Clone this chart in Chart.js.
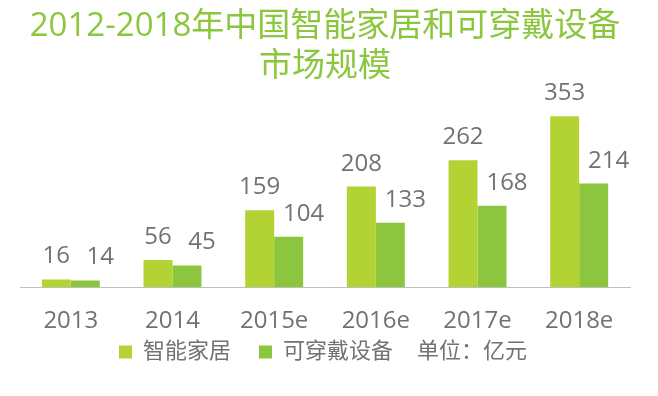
<!DOCTYPE html>
<html>
<head>
<meta charset="utf-8">
<script src="https://cdn.jsdelivr.net/npm/chart.js@4"></script>
<style>
  html, body { margin: 0; padding: 0; background: #fff; }
  #wrap { width: 658px; height: 396px; }
</style>
</head>
<body>
<div id="wrap"><canvas id="marketChart"></canvas></div>
<script>
// Data
const years = ['2013', '2014', '2015e', '2016e', '2017e', '2018e'];
const smartHome = [16, 56, 159, 208, 262, 353];
const wearables = [14, 45, 104, 133, 168, 214];
const seriesNames = ['智能家居', '可穿戴设备'];
const titleLines = ['2012-2018年中国智能家居和可穿戴设备', '市场规模'];
const unitText = '单位：亿元';

const fontFamily = "'Open Sans', 'Noto Sans CJK SC', sans-serif";
const textGray = '#767171';
const lightGreen = '#b3d234';
const darkGreen = '#8cc63f';

// Value labels above each bar (second series nudged right, like the original)
const valueLabels = {
    id: 'valueLabels',
    afterDatasetsDraw(chart) {
        const ctx = chart.ctx;
        ctx.save();
        ctx.font = '24px ' + fontFamily;
        ctx.fillStyle = textGray;
        ctx.textAlign = 'center';
        ctx.textBaseline = 'alphabetic';
        chart.data.datasets.forEach((ds, i) => {
            const meta = chart.getDatasetMeta(i);
            meta.data.forEach((bar, j) => {
                const shift = i === 1 ? 15 : 0;
                ctx.fillText(ds.data[j], bar.x + shift, bar.y - 16);
            });
        });
        ctx.restore();
    }
};

// Make room in the legend row for the unit text and lift the legend a bit
const legendUnit = {
    id: 'legendUnit',
    afterLayout(chart) {
        const legend = chart.legend;
        const pad = chart.options.plugins.legend.labels.padding;
        const ctx = chart.ctx;
        ctx.save();
        ctx.font = '22px ' + fontFamily;
        const w = ctx.measureText(unitText).width;
        ctx.restore();
        legend.lineWidths[0] += w + pad;
        legend.top -= 43;
        legend.bottom -= 43;
    },
    afterDraw(chart) {
        const boxes = chart.legend.legendHitBoxes;
        const last = boxes[boxes.length - 1];
        const pad = chart.options.plugins.legend.labels.padding;
        const ctx = chart.ctx;
        ctx.save();
        ctx.font = '22px ' + fontFamily;
        ctx.fillStyle = textGray;
        ctx.textAlign = 'left';
        ctx.textBaseline = 'middle';
        ctx.fillText(unitText, last.left + last.width + pad - 4, last.top + last.height / 2);
        ctx.restore();
    }
};

const ctx = document.getElementById('marketChart').getContext('2d');
new Chart(ctx, {
    type: 'bar',
    data: {
        labels: years,
        datasets: [
            {
                label: seriesNames[0],
                data: smartHome,
                backgroundColor: lightGreen,
                borderWidth: 0
            },
            {
                label: seriesNames[1],
                data: wearables,
                backgroundColor: darkGreen,
                borderWidth: 0
            }
        ]
    },
    options: {
        responsive: true,
        maintainAspectRatio: false,
        animation: false,
        layout: {
            padding: { left: 20, right: 28, top: 0, bottom: -20 }
        },
        datasets: {
            bar: {
                barPercentage: 1,
                categoryPercentage: 0.57
            }
        },
        scales: {
            x: {
                grid: { display: false, drawTicks: false },
                border: { display: true, color: '#bfbfbf', width: 1 },
                ticks: {
                    color: textGray,
                    padding: 20,
                    font: { family: fontFamily, size: 24 }
                }
            },
            y: {
                display: false,
                min: 0,
                max: 398
            }
        },
        plugins: {
            title: {
                display: true,
                text: titleLines,
                color: '#8cc63f',
                padding: { top: 6, bottom: 8 },
                font: { family: fontFamily, size: 33, weight: 'normal', lineHeight: 1.22 }
            },
            legend: {
                position: 'bottom',
                labels: {
                    boxWidth: 13,
                    boxHeight: 13,
                    padding: 28,
                    color: textGray,
                    font: { family: fontFamily, size: 22 }
                }
            },
            tooltip: { enabled: false }
        }
    },
    plugins: [valueLabels, legendUnit]
});
</script>
</body>
</html>
